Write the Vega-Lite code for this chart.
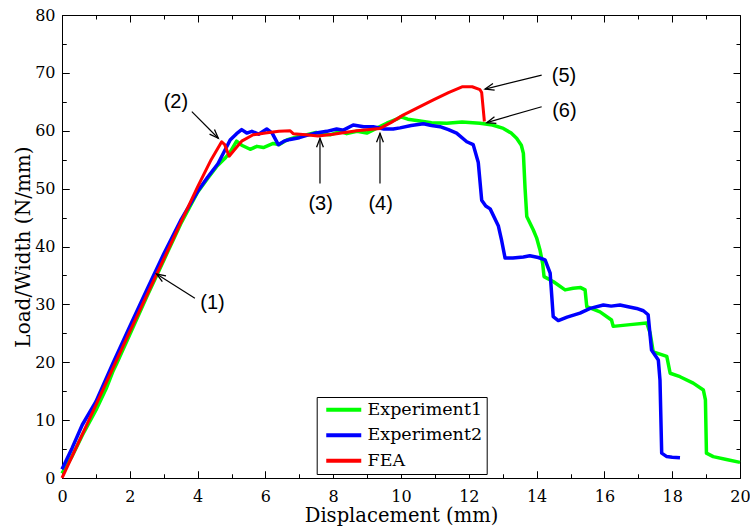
{
  "$schema": "https://vega.github.io/schema/vega-lite/v6.json",
  "width": 678,
  "height": 463,
  "autosize": {"type": "none"},
  "padding": {"left": 62, "top": 15, "right": 10, "bottom": 49},
  "background": "white",
  "config": {
    "view": {"stroke": "black", "strokeWidth": 1},
    "axis": {"domain": false, "grid": false, "labelFont": "DejaVu Serif", "titleFont": "DejaVu Serif", "labelColor": "black", "titleColor": "black", "tickColor": "black", "tickOpacity": 1, "gridColor": "black", "gridOpacity": 1, "gridWidth": 1, "titleFontWeight": "normal", "labelFlush": false, "labelOverlap": false, "zindex": 1}
  },
  "datasets": {
    "exp1": [
      {"s":"Experiment1","d":0,"p":0.8},{"s":"Experiment1","d":0.3,"p":3.8},{"s":"Experiment1","d":0.6,"p":7.4},{"s":"Experiment1","d":1.0,"p":11.7},{"s":"Experiment1","d":1.3,"p":15.4},{"s":"Experiment1","d":1.5,"p":18.4},{"s":"Experiment1","d":1.6,"p":19.6},{"s":"Experiment1","d":2.0,"p":24.8},{"s":"Experiment1","d":2.5,"p":31.3},{"s":"Experiment1","d":3.0,"p":37.6},{"s":"Experiment1","d":3.5,"p":43.9},{"s":"Experiment1","d":4.0,"p":49.4},{"s":"Experiment1","d":4.3,"p":51.8},{"s":"Experiment1","d":4.56,"p":53.8},{"s":"Experiment1","d":4.8,"p":55.2},{"s":"Experiment1","d":4.96,"p":56.3},{"s":"Experiment1","d":5.15,"p":58.2},{"s":"Experiment1","d":5.3,"p":57.5},{"s":"Experiment1","d":5.55,"p":56.8},{"s":"Experiment1","d":5.75,"p":57.3},{"s":"Experiment1","d":5.94,"p":57.1},{"s":"Experiment1","d":6.23,"p":57.8},{"s":"Experiment1","d":6.4,"p":57.6},{"s":"Experiment1","d":6.63,"p":58.4},{"s":"Experiment1","d":6.9,"p":58.9},{"s":"Experiment1","d":7.22,"p":59.3},{"s":"Experiment1","d":7.5,"p":59.7},{"s":"Experiment1","d":7.7,"p":59.4},{"s":"Experiment1","d":7.91,"p":59.3},{"s":"Experiment1","d":8.2,"p":59.9},{"s":"Experiment1","d":8.4,"p":59.5},{"s":"Experiment1","d":8.7,"p":59.9},{"s":"Experiment1","d":8.99,"p":59.6},{"s":"Experiment1","d":9.3,"p":60.5},{"s":"Experiment1","d":9.58,"p":61.3},{"s":"Experiment1","d":9.87,"p":62.0},{"s":"Experiment1","d":10.0,"p":62.4},{"s":"Experiment1","d":10.2,"p":62.0},{"s":"Experiment1","d":10.56,"p":61.7},{"s":"Experiment1","d":10.9,"p":61.4},{"s":"Experiment1","d":11.35,"p":61.3},{"s":"Experiment1","d":11.8,"p":61.5},{"s":"Experiment1","d":12.33,"p":61.3},{"s":"Experiment1","d":12.7,"p":61.0},{"s":"Experiment1","d":13.02,"p":60.4},{"s":"Experiment1","d":13.25,"p":59.6},{"s":"Experiment1","d":13.41,"p":58.7},{"s":"Experiment1","d":13.55,"p":57.5},{"s":"Experiment1","d":13.61,"p":56.1},{"s":"Experiment1","d":13.66,"p":50.0},{"s":"Experiment1","d":13.71,"p":45.2},{"s":"Experiment1","d":13.9,"p":42.9},{"s":"Experiment1","d":14.0,"p":41.5},{"s":"Experiment1","d":14.1,"p":39.4},{"s":"Experiment1","d":14.18,"p":37.0},{"s":"Experiment1","d":14.22,"p":34.8},{"s":"Experiment1","d":14.5,"p":33.9},{"s":"Experiment1","d":14.84,"p":32.5},{"s":"Experiment1","d":15.08,"p":32.8},{"s":"Experiment1","d":15.3,"p":32.9},{"s":"Experiment1","d":15.43,"p":32.5},{"s":"Experiment1","d":15.48,"p":29.6},{"s":"Experiment1","d":15.87,"p":28.7},{"s":"Experiment1","d":16.21,"p":27.3},{"s":"Experiment1","d":16.26,"p":26.2},{"s":"Experiment1","d":16.76,"p":26.5},{"s":"Experiment1","d":17.25,"p":26.8},{"s":"Experiment1","d":17.35,"p":25.0},{"s":"Experiment1","d":17.44,"p":21.8},{"s":"Experiment1","d":17.84,"p":21.0},{"s":"Experiment1","d":17.94,"p":18.1},{"s":"Experiment1","d":18.23,"p":17.5},{"s":"Experiment1","d":18.62,"p":16.4},{"s":"Experiment1","d":18.92,"p":15.2},{"s":"Experiment1","d":18.98,"p":13.5},{"s":"Experiment1","d":19.01,"p":4.3},{"s":"Experiment1","d":19.21,"p":3.7},{"s":"Experiment1","d":19.6,"p":3.2},{"s":"Experiment1","d":20.0,"p":2.7}
    ],
    "exp2": [
      {"s":"Experiment2","d":0,"p":1.5},{"s":"Experiment2","d":0.3,"p":5.2},{"s":"Experiment2","d":0.6,"p":9.2},{"s":"Experiment2","d":1.0,"p":13.2},{"s":"Experiment2","d":1.5,"p":19.8},{"s":"Experiment2","d":2.0,"p":26.2},{"s":"Experiment2","d":2.5,"p":32.5},{"s":"Experiment2","d":3.0,"p":38.7},{"s":"Experiment2","d":3.5,"p":44.5},{"s":"Experiment2","d":4.0,"p":49.5},{"s":"Experiment2","d":4.3,"p":52.0},{"s":"Experiment2","d":4.6,"p":54.3},{"s":"Experiment2","d":4.96,"p":58.4},{"s":"Experiment2","d":5.15,"p":59.5},{"s":"Experiment2","d":5.3,"p":60.2},{"s":"Experiment2","d":5.45,"p":59.6},{"s":"Experiment2","d":5.6,"p":59.9},{"s":"Experiment2","d":5.8,"p":59.4},{"s":"Experiment2","d":6.04,"p":60.3},{"s":"Experiment2","d":6.2,"p":59.6},{"s":"Experiment2","d":6.38,"p":57.6},{"s":"Experiment2","d":6.55,"p":58.2},{"s":"Experiment2","d":6.73,"p":58.5},{"s":"Experiment2","d":7.0,"p":58.8},{"s":"Experiment2","d":7.22,"p":59.2},{"s":"Experiment2","d":7.5,"p":59.6},{"s":"Experiment2","d":7.81,"p":59.9},{"s":"Experiment2","d":8.1,"p":60.3},{"s":"Experiment2","d":8.3,"p":60.1},{"s":"Experiment2","d":8.59,"p":61.0},{"s":"Experiment2","d":8.9,"p":60.7},{"s":"Experiment2","d":9.18,"p":60.7},{"s":"Experiment2","d":9.5,"p":60.3},{"s":"Experiment2","d":9.77,"p":60.3},{"s":"Experiment2","d":9.97,"p":60.5},{"s":"Experiment2","d":10.3,"p":60.9},{"s":"Experiment2","d":10.66,"p":61.2},{"s":"Experiment2","d":10.9,"p":60.9},{"s":"Experiment2","d":11.15,"p":60.7},{"s":"Experiment2","d":11.4,"p":60.2},{"s":"Experiment2","d":11.64,"p":59.6},{"s":"Experiment2","d":11.94,"p":58.1},{"s":"Experiment2","d":12.13,"p":57.6},{"s":"Experiment2","d":12.28,"p":54.5},{"s":"Experiment2","d":12.38,"p":48.0},{"s":"Experiment2","d":12.5,"p":47.0},{"s":"Experiment2","d":12.63,"p":46.5},{"s":"Experiment2","d":12.87,"p":43.6},{"s":"Experiment2","d":12.97,"p":41.0},{"s":"Experiment2","d":13.07,"p":38.0},{"s":"Experiment2","d":13.3,"p":38.0},{"s":"Experiment2","d":13.61,"p":38.2},{"s":"Experiment2","d":13.8,"p":38.4},{"s":"Experiment2","d":14.05,"p":38.1},{"s":"Experiment2","d":14.25,"p":37.7},{"s":"Experiment2","d":14.4,"p":35.4},{"s":"Experiment2","d":14.49,"p":27.9},{"s":"Experiment2","d":14.64,"p":27.2},{"s":"Experiment2","d":14.9,"p":27.8},{"s":"Experiment2","d":15.28,"p":28.5},{"s":"Experiment2","d":15.58,"p":29.3},{"s":"Experiment2","d":15.97,"p":29.9},{"s":"Experiment2","d":16.2,"p":29.7},{"s":"Experiment2","d":16.46,"p":29.9},{"s":"Experiment2","d":16.7,"p":29.6},{"s":"Experiment2","d":16.95,"p":29.3},{"s":"Experiment2","d":17.15,"p":28.9},{"s":"Experiment2","d":17.29,"p":28.2},{"s":"Experiment2","d":17.39,"p":22.1},{"s":"Experiment2","d":17.59,"p":20.4},{"s":"Experiment2","d":17.64,"p":16.9},{"s":"Experiment2","d":17.69,"p":4.3},{"s":"Experiment2","d":17.84,"p":3.7},{"s":"Experiment2","d":18.0,"p":3.6},{"s":"Experiment2","d":18.23,"p":3.5}
    ],
    "fea": [
      {"s":"FEA","d":0,"p":0},{"s":"FEA","d":1,"p":12.6},{"s":"FEA","d":2,"p":25.3},{"s":"FEA","d":3,"p":37.8},{"s":"FEA","d":3.5,"p":44.1},{"s":"FEA","d":4.0,"p":50.3},{"s":"FEA","d":4.4,"p":55.0},{"s":"FEA","d":4.71,"p":58.1},{"s":"FEA","d":4.8,"p":57.6},{"s":"FEA","d":4.93,"p":55.6},{"s":"FEA","d":5.1,"p":56.8},{"s":"FEA","d":5.3,"p":58.2},{"s":"FEA","d":5.64,"p":59.3},{"s":"FEA","d":6.0,"p":59.6},{"s":"FEA","d":6.4,"p":59.9},{"s":"FEA","d":6.73,"p":60.0},{"s":"FEA","d":6.82,"p":59.5},{"s":"FEA","d":7.2,"p":59.3},{"s":"FEA","d":7.55,"p":59.1},{"s":"FEA","d":8.0,"p":59.4},{"s":"FEA","d":8.69,"p":60.0},{"s":"FEA","d":9.38,"p":60.4},{"s":"FEA","d":9.7,"p":61.4},{"s":"FEA","d":10.06,"p":62.7},{"s":"FEA","d":10.5,"p":64.0},{"s":"FEA","d":10.94,"p":65.3},{"s":"FEA","d":11.4,"p":66.6},{"s":"FEA","d":11.8,"p":67.6},{"s":"FEA","d":12.1,"p":67.6},{"s":"FEA","d":12.33,"p":67.1},{"s":"FEA","d":12.38,"p":66.6},{"s":"FEA","d":12.46,"p":61.6}
    ],
    "notes": [
      {"t":"(1)","x":4.44,"y":30.2},{"t":"(2)","x":3.36,"y":64.9},{"t":"(3)","x":7.63,"y":47.35},{"t":"(4)","x":9.4,"y":47.35},{"t":"(5)","x":14.81,"y":69.5},{"t":"(6)","x":14.82,"y":63.45}
    ],
    "arrows": [
      {"n":"(1)","x":3.92,"y":31.05,"tx":2.79,"ty":35.25,"dir":212.4},
      {"n":"(2)","x":3.83,"y":63.3,"tx":4.61,"ty":58.7,"dir":46},
      {"n":"(3)","x":7.61,"y":50.9,"tx":7.61,"ty":58.7,"dir":270},
      {"n":"(4)","x":9.38,"y":50.9,"tx":9.38,"ty":59.55,"dir":270},
      {"n":"(5)","x":14.15,"y":69.6,"tx":12.48,"ty":67.2,"dir":165.8},
      {"n":"(6)","x":14.15,"y":64.15,"tx":12.53,"ty":61.4,"dir":163.8}
    ]
  },
  "layer": [
    {
      "data": {"name": "exp1"},
      "mark": {"type": "line", "strokeWidth": 3.5, "strokeJoin": "round"},
      "encoding": {
        "x": {"field": "d", "type": "quantitative", "scale": {"domain": [0, 20], "nice": false, "zero": false},
          "axis": {"orient": "bottom", "values": [0,2,4,6,8,10,12,14,16,18,20], "ticks": true, "tickSize": -7, "tickWidth": 1, "grid": true, "gridDash": [7, 449], "labelFontSize": 16, "labelPadding": 17, "labelBaseline": "top",
            "title": "Displacement (mm)", "titleFontSize": 19.5, "titleY": 43.5, "titleX": 339, "titleBaseline": "alphabetic", "titleAlign": "center"}},
        "y": {"field": "p", "type": "quantitative", "scale": {"domain": [0, 80], "nice": false, "zero": false},
          "axis": {"orient": "left", "values": [0,10,20,30,40,50,60,70,80], "ticks": true, "tickSize": -7, "tickWidth": 1, "grid": true, "gridDash": [7, 664], "labelFontSize": 16, "labelPadding": 14,
            "title": "Load/Width (N/mm)", "titleFontSize": 20, "titleX": -32.5, "titleY": 231.5, "titleAngle": 270, "titleBaseline": "alphabetic", "titleAlign": "center"}},
        "color": {"field": "s", "type": "nominal",
          "scale": {"domain": ["Experiment1", "Experiment2", "FEA"], "range": ["#00ff00", "#0000ff", "#ff0000"]},
          "legend": {"orient": "none", "legendX": 254.7, "legendY": 382, "title": null, "symbolType": "M -3.5 0 L 3.5 0", "symbolSize": 100, "symbolStrokeWidth": 4, "symbolOffset": 14.3,
            "labelFont": "DejaVu Serif", "labelFontSize": 17.5, "labelColor": "black", "strokeColor": "black", "fillColor": "white", "padding": 4, "rowPadding": 6.5, "labelOffset": 15, "cornerRadius": 0, "zindex": 2}}
      }
    },
    {
      "data": {"name": "exp2"},
      "mark": {"type": "line", "strokeWidth": 3.5, "strokeJoin": "round"},
      "encoding": {
        "x": {"field": "d", "type": "quantitative", "scale": {"domain": [0, 20], "nice": false, "zero": false},
          "axis": {"orient": "bottom", "values": [1,3,5,7,9,11,13,15,17,19], "labels": false, "title": null, "ticks": true, "tickSize": -4, "tickWidth": 1, "grid": true, "gridDash": [4, 455]}},
        "y": {"field": "p", "type": "quantitative", "scale": {"domain": [0, 80], "nice": false, "zero": false},
          "axis": {"orient": "left", "values": [5,15,25,35,45,55,65,75], "labels": false, "title": null, "ticks": true, "tickSize": -4, "tickWidth": 1, "grid": true, "gridDash": [4, 670]}},
        "color": {"field": "s", "type": "nominal"}
      }
    },
    {
      "data": {"name": "fea"},
      "mark": {"type": "line", "strokeWidth": 3, "strokeJoin": "round"},
      "encoding": {
        "x": {"field": "d", "type": "quantitative", "scale": {"domain": [0, 20], "nice": false, "zero": false}, "axis": null},
        "y": {"field": "p", "type": "quantitative", "scale": {"domain": [0, 80], "nice": false, "zero": false}, "axis": null},
        "color": {"field": "s", "type": "nominal"}
      }
    },
    {
      "data": {"name": "notes"},
      "mark": {"type": "text", "font": "Liberation Sans", "fontSize": 20, "align": "center", "baseline": "middle", "color": "black"},
      "encoding": {
        "x": {"field": "x", "type": "quantitative", "scale": {"domain": [0, 20], "nice": false, "zero": false}, "axis": null},
        "y": {"field": "y", "type": "quantitative", "scale": {"domain": [0, 80], "nice": false, "zero": false}, "axis": null},
        "text": {"field": "t", "type": "nominal"}
      }
    },
    {
      "data": {"name": "arrows"},
      "mark": {"type": "rule", "color": "black", "strokeWidth": 1.2},
      "encoding": {
        "x": {"field": "x", "type": "quantitative", "scale": {"domain": [0, 20], "nice": false, "zero": false}, "axis": null},
        "y": {"field": "y", "type": "quantitative", "scale": {"domain": [0, 80], "nice": false, "zero": false}, "axis": null},
        "x2": {"field": "tx"},
        "y2": {"field": "ty"}
      }
    },
    {
      "data": {"name": "arrows"},
      "mark": {"type": "point", "shape": "M -1 -0.38 L 0 0 L -1 0.38", "filled": false, "stroke": "black", "strokeWidth": 1.3, "size": 324, "opacity": 1},
      "encoding": {
        "x": {"field": "tx", "type": "quantitative", "scale": {"domain": [0, 20], "nice": false, "zero": false}, "axis": null},
        "y": {"field": "ty", "type": "quantitative", "scale": {"domain": [0, 80], "nice": false, "zero": false}, "axis": null},
        "angle": {"field": "dir", "type": "quantitative", "scale": null}
      }
    }
  ],
  "resolve": {"scale": {"x": "independent", "y": "independent"}, "axis": {"x": "independent", "y": "independent"}}
}
